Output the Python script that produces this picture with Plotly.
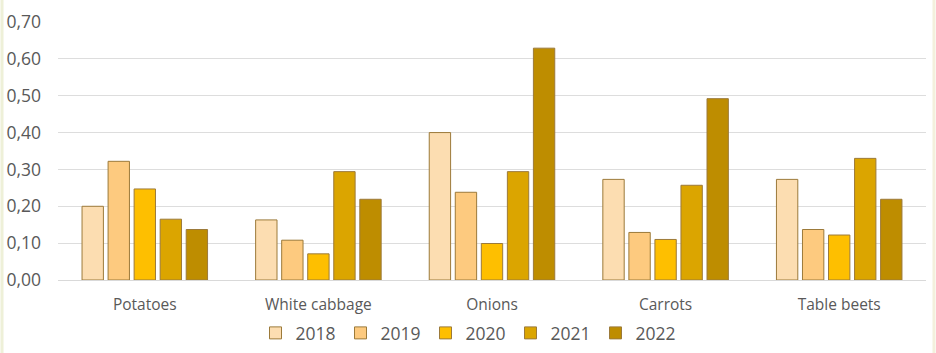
import plotly.graph_objects as go

categories = ["Potatoes", "White cabbage", "Onions", "Carrots", "Table beets"]
years = ["2018", "2019", "2020", "2021", "2022"]
values_2018 = [0.200, 0.163, 0.400, 0.273, 0.273]
values_2019 = [0.322, 0.108, 0.238, 0.129, 0.137]
values_2020 = [0.247, 0.071, 0.099, 0.110, 0.122]
values_2021 = [0.165, 0.294, 0.294, 0.257, 0.330]
values_2022 = [0.137, 0.219, 0.629, 0.492, 0.219]
series = [values_2018, values_2019, values_2020, values_2021, values_2022]
colors = ["#FCDDB1", "#FDCA7F", "#FEBF00", "#DBA500", "#BE8D00"]
y_ticks = [0.0, 0.1, 0.2, 0.3, 0.4, 0.5, 0.6, 0.7]
y_tick_labels = ["0,00", "0,10", "0,20", "0,30", "0,40", "0,50", "0,60", "0,70"]

fig = go.Figure()
for yr, vals, col in zip(years, series, colors):
    fig.add_trace(go.Bar(
        x=categories, y=vals, name=yr,
        marker=dict(color=col, line=dict(color="#9C7A3A", width=1)),
    ))

fig.update_layout(
    width=936, height=353,
    margin=dict(l=58, r=10, t=22, b=73, autoexpand=False),
    paper_bgcolor="white", plot_bgcolor="white",
    barmode="group", bargap=0.25, bargroupgap=0.18,
    font=dict(family="Open Sans", color="#595959"),
    showlegend=True,
    legend=dict(orientation="h", x=0.5, xanchor="center", xref="container",
                y=1 - 333/353, yanchor="middle", yref="container",
                font=dict(size=17.5, color="#595959"), itemwidth=30,
                entrywidth=40, traceorder="normal"),
    xaxis=dict(showgrid=False, showline=False, ticks="", ticklabelstandoff=13,
               tickfont=dict(size=15.5, color="#595959")),
    yaxis=dict(range=[0, 0.7], tickvals=y_ticks, ticktext=y_tick_labels,
               showgrid=True, gridcolor="#DDDDDD", gridwidth=1,
               zeroline=True, zerolinecolor="#D9D9D9", zerolinewidth=1,
               showline=False, ticks="", ticklabelstandoff=16,
               tickfont=dict(size=17.5, color="#595959")),
)

# thin pale page borders at left/right edges
fig.add_shape(type="line", xref="paper", yref="paper",
              x0=-56/868, x1=-56/868, y0=-73/258, y1=(258+22)/258,
              line=dict(color="#EEF0D8", width=3))
fig.add_shape(type="line", xref="paper", yref="paper",
              x0=1 + 8/868, x1=1 + 8/868, y0=-73/258, y1=(258+22)/258,
              line=dict(color="#F3F0DC", width=3))

fig.write_html("out.html")
